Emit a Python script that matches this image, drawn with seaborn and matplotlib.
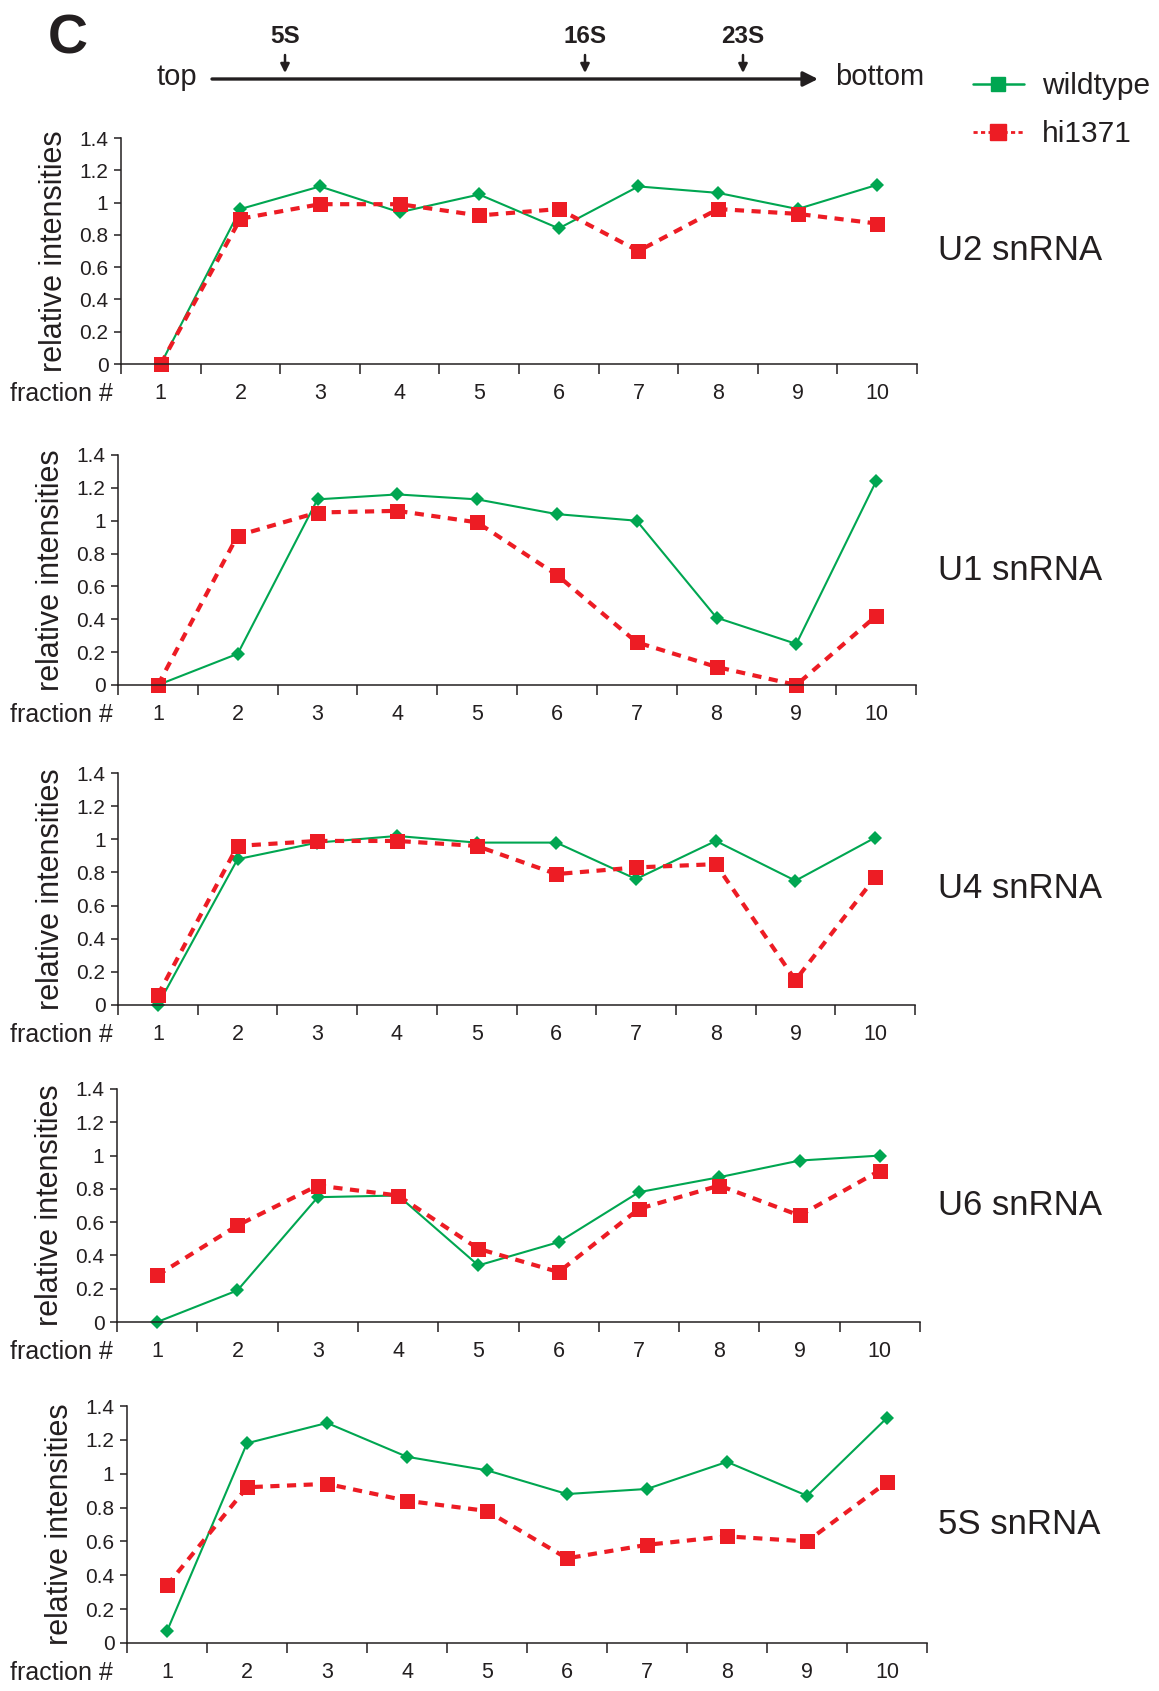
import numpy as np
import pandas as pd
import matplotlib
matplotlib.use("Agg")
import matplotlib.pyplot as plt
from matplotlib.lines import Line2D
import seaborn as sns

# data
fractions = list(range(1, 11))
rnas = ["U2 snRNA", "U1 snRNA", "U4 snRNA", "U6 snRNA", "5S snRNA"]

u2_wt = [0.0, 0.96, 1.10, 0.94, 1.05, 0.84, 1.10, 1.06, 0.96, 1.11]
u2_mut = [0.0, 0.90, 0.99, 0.99, 0.92, 0.96, 0.70, 0.96, 0.93, 0.87]
u1_wt = [0.0, 0.19, 1.13, 1.16, 1.13, 1.04, 1.00, 0.41, 0.25, 1.24]
u1_mut = [0.0, 0.91, 1.05, 1.06, 0.99, 0.67, 0.26, 0.11, 0.0, 0.42]
u4_wt = [0.0, 0.88, 0.98, 1.02, 0.98, 0.98, 0.76, 0.99, 0.75, 1.01]
u4_mut = [0.06, 0.96, 0.99, 0.99, 0.96, 0.79, 0.83, 0.85, 0.15, 0.77]
u6_wt = [0.0, 0.19, 0.75, 0.76, 0.34, 0.48, 0.78, 0.87, 0.97, 1.00]
u6_mut = [0.28, 0.58, 0.82, 0.76, 0.44, 0.30, 0.68, 0.82, 0.64, 0.91]
s5_wt = [0.07, 1.18, 1.30, 1.10, 1.02, 0.88, 0.91, 1.07, 0.87, 1.33]
s5_mut = [0.34, 0.92, 0.94, 0.84, 0.78, 0.50, 0.58, 0.63, 0.60, 0.95]

wt_values = [u2_wt, u1_wt, u4_wt, u6_wt, s5_wt]
mut_values = [u2_mut, u1_mut, u4_mut, u6_mut, s5_mut]

yticks = [0, 0.2, 0.4, 0.6, 0.8, 1.0, 1.2, 1.4]
ytick_labels = ["0", "0.2", "0.4", "0.6", "0.8", "1", "1.2", "1.4"]

sed_markers = ["5S", "16S", "23S"]

rows = []
for rna, wt, mut in zip(rnas, wt_values, mut_values):
    for f, v in zip(fractions, wt):
        rows.append((rna, "wildtype", f, v))
    for f, v in zip(fractions, mut):
        rows.append((rna, "hi1371", f, v))
df = pd.DataFrame(rows, columns=["rna", "strain", "fraction", "intensity"])

sns.set_style("ticks")
plt.rcParams['font.family'] = ['Liberation Sans', 'DejaVu Sans']
plt.rcParams['text.color'] = '#231f20'

green = '#00a651'
red = '#ed1c24'
ink = '#231f20'

W, H = 1159, 1691
fig = plt.figure(figsize=(W / 100, H / 100), dpi=100)

# panel boxes in pixels: left, right, top, bottom
boxes = [(121, 917, 138, 364), (118, 916, 455, 685), (118, 915, 773, 1005),
         (117, 920, 1089, 1322), (127, 927, 1406, 1643)]
sed_x = [285, 585, 743]

for rna, (l, r, t, b) in zip(rnas, boxes):
    ax = fig.add_axes([l / W, 1 - b / H, (r - l) / W, (b - t) / H])
    sub = df[df.rna == rna]
    sns.lineplot(data=sub[sub.strain == "wildtype"], x="fraction", y="intensity",
                 color=green, marker="D", markersize=7, markeredgewidth=0,
                 linewidth=1.5, errorbar=None, clip_on=False, ax=ax)
    sns.lineplot(data=sub[sub.strain == "hi1371"], x="fraction", y="intensity",
                 color=red, marker="s", markersize=10.8, markeredgewidth=0,
                 linewidth=3, linestyle=(0, (2.2, 1.8)), errorbar=None,
                 clip_on=False, ax=ax)

    ax.set_xlim(0.5, 10.5)
    ax.set_ylim(0, 1.4)
    ax.set_xticks(np.arange(0.5, 11, 1))
    ax.set_xticklabels([])
    ax.set_xticks(fractions, minor=True)
    ax.set_xticklabels([str(f) for f in fractions], minor=True)
    ax.tick_params(axis='x', which='major', length=7, width=1.1, direction='out', color=ink)
    ax.tick_params(axis='x', which='minor', length=0, pad=14, labelsize=15.5, labelcolor=ink)
    ax.set_yticks(yticks)
    ax.set_yticklabels(ytick_labels)
    ax.tick_params(axis='y', length=5, width=1.1, pad=4, labelsize=15, labelcolor=ink, color=ink)
    sns.despine(ax=ax)
    for s in ["left", "bottom"]:
        ax.spines[s].set_linewidth(1.1)
        ax.spines[s].set_color(ink)
    ax.set_xlabel("")
    ax.set_ylabel("relative intensities", fontsize=22, color=ink)
    ax.yaxis.set_label_coords(-52 / (r - l), 0.5)

    fig.text(113 / W, 1 - (b + 30) / H, "fraction #", fontsize=18, ha='right', va='center')
    fig.text(938 / W, 1 - (t + b) / 2 / H, rna, fontsize=25, ha='left', va='center')

# header: gradient arrow
hdr = fig.add_axes([0, 0, 1, 1], zorder=-1)
hdr.set_xlim(0, W)
hdr.set_ylim(H, 0)
hdr.axis('off')
hdr.text(48, 53, "C", fontsize=40, fontweight='bold', ha='left', va='baseline')
hdr.text(177, 85, "top", fontsize=21, ha='center', va='baseline')
hdr.text(835, 85, "bottom", fontsize=21, ha='left', va='baseline')
hdr.annotate("", xy=(818, 79), xytext=(212, 79),
             arrowprops=dict(arrowstyle='-|>', lw=2.4, color=ink, mutation_scale=22,
                             shrinkA=0, shrinkB=0))
for lab, x in zip(sed_markers, sed_x):
    hdr.text(x, 43, lab, fontsize=17.5, fontweight='bold', ha='center', va='baseline')
    hdr.annotate("", xy=(x, 73), xytext=(x, 55),
                 arrowprops=dict(arrowstyle='-|>', lw=1.8, color=ink, mutation_scale=13,
                                 shrinkA=0, shrinkB=0))

handles = [Line2D([], [], color=green, marker='s', markersize=10, linewidth=1.8),
           Line2D([], [], color=red, marker='s', markersize=12, linewidth=2,
                  linestyle=(0, (1.5, 1.2)))]
fig.legend(handles, ["wildtype", "hi1371"], loc='upper left',
           bbox_to_anchor=(973 / W, 1 - 72 / H), frameon=False, fontsize=21.5,
           handlelength=1.7, handletextpad=0.6, labelspacing=0.68,
           borderpad=0, borderaxespad=0)

fig.savefig("out.png", dpi=100)
